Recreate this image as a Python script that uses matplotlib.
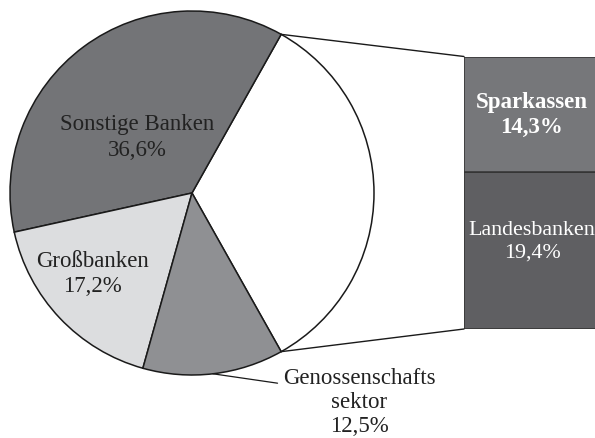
import numpy as np
import matplotlib.pyplot as plt
from matplotlib.patches import ConnectionPatch

plt.rcParams['font.family'] = ['Liberation Serif', 'DejaVu Serif']

# pie: white slice = Sparkassen + Landesbanken
pie_labels = ['Rest', 'Sonstige Banken', 'Großbanken', 'Genossenschafts\nsektor']
pie_values = [33.7, 36.6, 17.2, 12.5]
pie_colors = ['#ffffff', '#737477', '#dcdddf', '#8f9093']

bar_labels = ['Landesbanken', 'Sparkassen']
bar_values = [19.4, 14.3]
bar_colors = ['#5f5f62', '#76777a']

W, H = 595, 439
fig = plt.figure(figsize=(W / 100, H / 100), dpi=100)

# pie axes: centre (192,194) px, radius 182 px
cx, cy, r = 192, 194, 182
ax = fig.add_axes([(cx - r) / W, (H - cy - r) / H, 2 * r / W, 2 * r / H])
half = pie_values[0] / 100 * 360 / 2
wedges, _ = ax.pie(pie_values, colors=pie_colors, startangle=-half,
                   counterclock=True, radius=1,
                   wedgeprops=dict(edgecolor='#1a1a1a', linewidth=1.1))
ax.set_xlim(-1, 1)
ax.set_ylim(-1, 1)
ax.set_aspect('equal')
ax.axis('off')

fs = 16.5
ls = 1.3
ax.text(-0.30, 0.31, 'Sonstige Banken\n36,6%', ha='center', va='center',
        fontsize=fs, color='#222222', linespacing=ls)
ax.text(-0.545, -0.44, 'Großbanken\n17,2%', ha='center', va='center',
        fontsize=fs, color='#222222', linespacing=ls)

# leader for Genossenschaftssektor
ang = np.deg2rad(276.6)
ax.annotate('', xy=(np.cos(ang), np.sin(ang)), xytext=(0.47, -1.045),
            arrowprops=dict(arrowstyle='-', color='#1a1a1a', lw=0.9,
                            shrinkA=0, shrinkB=0),
            annotation_clip=False)
ax.text(0.918, -0.955, 'Genossenschafts\nsektor\n12,5%', ha='center', va='top',
        fontsize=fs, color='#222222', linespacing=1.2, clip_on=False)

# bar axes
bx0, bx1, by0, by1 = 464, 600, 57.5, 330
bax = fig.add_axes([bx0 / W, (H - by1) / H, (bx1 - bx0) / W, (by1 - by0) / H])
total = sum(bar_values)
bottom = 0
for val, col in zip(bar_values, bar_colors):
    bax.bar(0, val, width=1, bottom=bottom, color=col, edgecolor='#333333',
            linewidth=1.1, align='edge')
    bottom += val
bax.set_xlim(0, 1)
bax.set_ylim(0, total)
bax.axis('off')

bax.text(0.5, 10.9, 'Landesbanken\n19,4%', ha='center', va='center',
         fontsize=15.8, color='white', linespacing=ls)
bax.text(0.5, 26.6, 'Sparkassen\n14,3%', ha='center', va='center',
         fontsize=fs, color='white', fontweight='bold', linespacing=ls)

# connecting lines
t1 = np.deg2rad(half)
for yy, sgn in [(total, 1), (0, -1)]:
    con = ConnectionPatch(xyA=(np.cos(t1), sgn * np.sin(t1)), coordsA=ax.transData,
                          xyB=(0, yy), coordsB=bax.transData,
                          color='#1a1a1a', lw=1.0)
    fig.add_artist(con)

fig.savefig('out.png', dpi=100)
